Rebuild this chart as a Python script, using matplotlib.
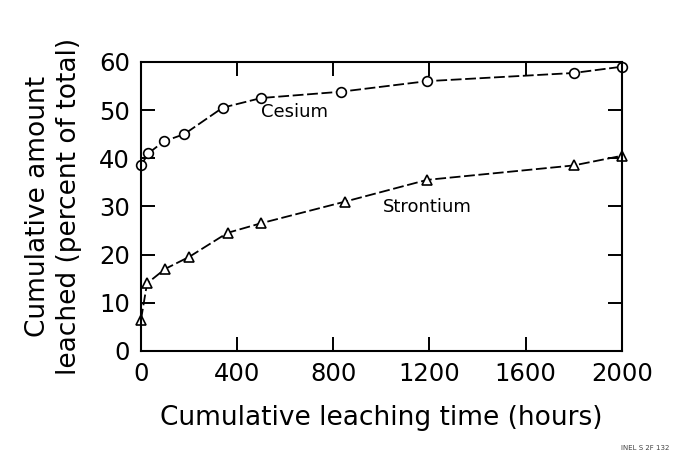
import matplotlib
matplotlib.use("Agg")
import matplotlib.pyplot as plt

# leaching time (hours) and cumulative amount leached (percent of total)
cs_hours = [0, 30, 95, 180, 340, 500, 830, 1190, 1800, 2000]
cs_pct = [38.5, 41, 43.5, 45, 50.5, 52.5, 53.8, 56, 57.7, 59]

sr_hours = [0, 25, 100, 200, 360, 500, 850, 1190, 1800, 2000]
sr_pct = [6.5, 14, 17, 19.5, 24.5, 26.5, 31, 35.5, 38.5, 40.5]

x_ticks = [0, 400, 800, 1200, 1600, 2000]
y_ticks = [0, 10, 20, 30, 40, 50, 60]

plt.rcParams['font.family'] = ['DejaVu Sans']

fig = plt.figure(figsize=(6.78, 4.69), dpi=100)
ax = fig.add_axes([0.208, 0.252, 0.709, 0.616])

ax.plot(cs_hours, cs_pct, color='black', lw=1.3, dashes=(6, 2),
        marker='o', ms=7, mfc='white', mec='black', mew=1.2, clip_on=False)
ax.plot(sr_hours, sr_pct, color='black', lw=1.3, dashes=(6, 2),
        marker='^', ms=7, mfc='white', mec='black', mew=1.2, clip_on=False)

ax.text(640, 49.5, "Cesium", fontsize=13, ha='center', va='center')
ax.text(1190, 29.8, "Strontium", fontsize=13, ha='center', va='center')

ax.set_xlim(0, 2000)
ax.set_ylim(0, 60)
ax.set_xticks(x_ticks)
ax.set_yticks(y_ticks)
ax.tick_params(direction='in', length=10, width=1.4, top=True, right=True,
               labelsize=17.5, pad=8)
for s in ax.spines.values():
    s.set_linewidth(1.5)

ax.set_xlabel("Cumulative leaching time (hours)", fontsize=19, labelpad=14)
ax.set_ylabel("Cumulative amount\nleached (percent of total)", fontsize=19,
              labelpad=12, linespacing=1.25)

fig.text(0.952, 0.04, "INEL S 2F 132", fontsize=5, ha='center', color='#444444')

fig.savefig("out.png", dpi=100)
